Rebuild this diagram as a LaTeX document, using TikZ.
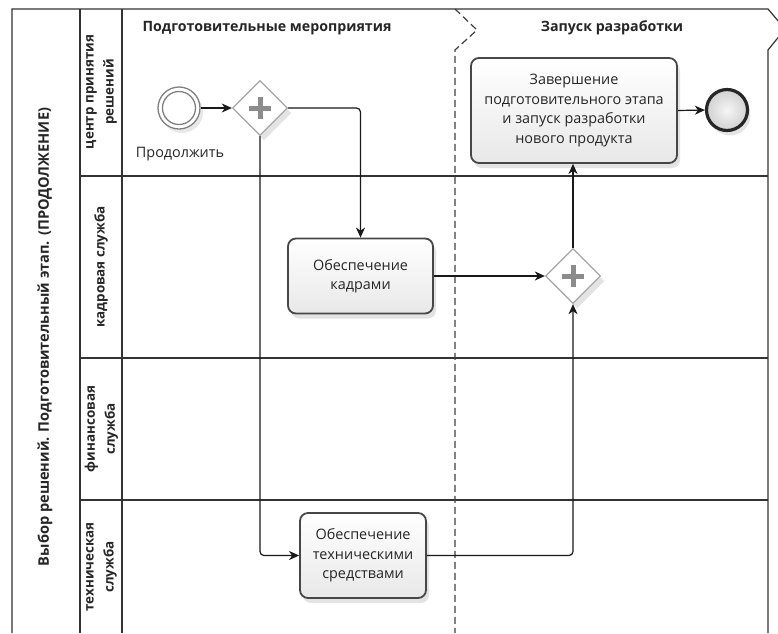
\documentclass[tikz,border=0pt]{standalone}
\usepackage{fontspec}
\setmainfont{Open Sans}
\usetikzlibrary{arrows.meta,shadows,shapes.geometric}

\tikzset{
  poolline/.style={draw=black!80, line width=1.2pt},
  phaseline/.style={draw=black!75, line width=1.2pt, dash pattern=on 7pt off 4pt},
  hdr/.style={font=\fontsize{14.2}{16}\bfseries\selectfont, text=black!85},
  lanelbl/.style={font=\fontsize{13.4}{20}\bfseries\selectfont, text=black!85, align=center, rotate=90},
  task/.style={rectangle, rounded corners=8pt, draw=black!72, line width=1.8pt,
    top color=white, bottom color=black!9, align=center, inner sep=2pt,
    font=\fontsize{14.4}{19.4}\selectfont, text=black!85,
    drop shadow={opacity=0.22, shadow xshift=3pt, shadow yshift=-5pt}},
  gateway/.style={diamond, aspect=1, minimum size=55pt, inner sep=0pt,
    draw=black!35, line width=1.3pt, fill=white,
    drop shadow={opacity=0.22, shadow xshift=4pt, shadow yshift=-5pt}},
  plussign/.style={draw=black!45, line width=5pt},
  startev/.style={circle, minimum size=42pt, inner sep=0pt, draw=black!50, line width=1.3pt,
    fill=white, drop shadow={opacity=0.18, shadow xshift=3pt, shadow yshift=-4pt}},
  endev/.style={circle, minimum size=41pt, inner sep=0pt, draw=black!85, line width=3.2pt,
    inner color=black!4, outer color=black!18,
    drop shadow={opacity=0.2, shadow xshift=3pt, shadow yshift=-5pt}},
  flow/.style={draw=black!90, line width=1.2pt, rounded corners=4pt,
    -{Stealth[length=10pt,width=9pt,inset=3pt]}},
}

\begin{document}
\begin{tikzpicture}[x=1pt, y=-1pt]
\useasboundingbox (0,0) rectangle (778,633);
\fill[white] (0,0) rectangle (778,633);

% pool frame and lane grid
\draw[poolline] (12,633) -- (12,9) -- (768,9) -- (785,29) -- (768,50) -- (768,633);
\draw[poolline] (80,9) -- (80,633);
\draw[poolline] (122,9) -- (122,633);
\draw[poolline] (80,176) -- (768,176);
\draw[poolline] (80,358) -- (768,358);
\draw[poolline] (80,500) -- (768,500);

% phase divider
\draw[phaseline] (455,9) -- (477,30) -- (455,50) -- (455,633);

% phase titles
\node[hdr] (ph1) at (267,28) {Подготовительные мероприятия};
\node[hdr] (ph2) at (612,28) {Запуск разработки};

% pool and lane titles
\node[lanelbl, font=\fontsize{14.6}{16}\bfseries\selectfont] (pool) at (45,337)
  {Выбор решений. Подготовительный этап. (ПРОДОЛЖЕНИЕ)};
\node[lanelbl] (l1) at (101.5,92) {центр принятия\\решений};
\node[lanelbl] (l2) at (101,267) {кадровая служба};
\node[lanelbl] (l3) at (101.5,429) {финансовая\\служба};
\node[lanelbl] (l4) at (101.5,567) {техническая\\служба};

% start event
\node[startev] (start) at (179,108) {};
\draw[draw=black!50, line width=1.3pt] (start.center) circle[radius=16.5pt];
\node[font=\fontsize{14.4}{16}\selectfont, text=black!85] (startlbl) at (180,154) {Продолжить};

% gateways
\node[gateway] (g1) at (260,108) {};
\draw[plussign] (249,108) -- (271,108) (260,97) -- (260,119);
\node[gateway] (g2) at (573,276) {};
\draw[plussign] (562,276) -- (584,276) (573,265) -- (573,287);

% tasks
\node[task, minimum width=145pt, minimum height=75pt] (t1) at (360.5,276) {Обеспечение\\кадрами};
\node[task, minimum width=126pt, minimum height=85pt] (t2) at (363,555.5) {Обеспечение\\техническими\\средствами};
\node[task, minimum width=206pt, minimum height=105pt] (t3) at (574,110.5)
  {Завершение\\подготовительного этапа\\и запуск разработки\\нового продукта};

% end event
\node[endev] (end) at (727,110) {};

% sequence flows
\draw[flow] (start) -- (g1);
\draw[flow] (g1.east) -| (t1.north);
\draw[flow] (g1.south) |- (t2.west);
\draw[flow] (t1.east) -- (g2.west);
\draw[flow] (t2.east) -| (g2.south);
\draw[flow] (g2.north) -- (t3.south -| g2.north);
\draw[flow] (t3.east) -- (end.west);
\end{tikzpicture}
\end{document}
